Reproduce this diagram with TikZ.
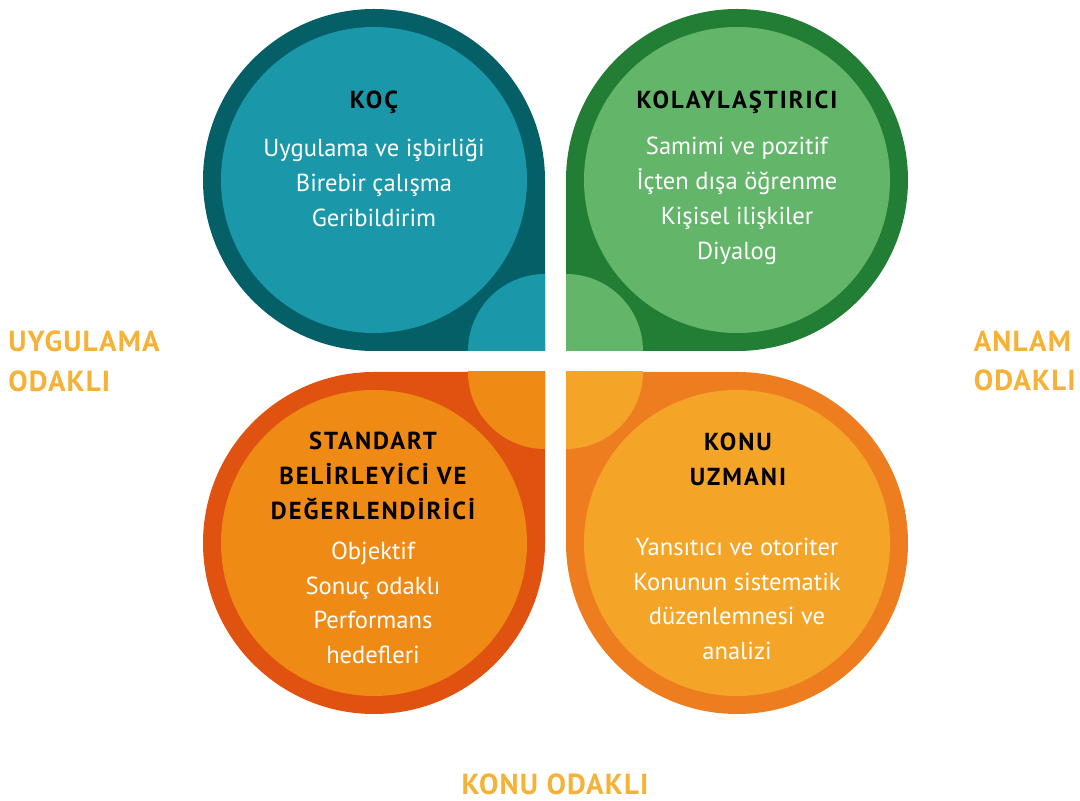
\documentclass[tikz,border=0pt]{standalone}
\usepackage{fontspec}
\setmainfont{PT Sans}
\usetikzlibrary{positioning}
\definecolor{coachdark}{HTML}{045F66}
\definecolor{coachlight}{HTML}{1A97A8}
\definecolor{facdark}{HTML}{237E35}
\definecolor{faclight}{HTML}{63B56A}
\definecolor{stddark}{HTML}{E0520F}
\definecolor{stdlight}{HTML}{EF8A14}
\definecolor{expdark}{HTML}{EE7D1F}
\definecolor{explight}{HTML}{F4A528}
\definecolor{axisgold}{HTML}{F5B236}
\tikzstyle{head}=[font=\bfseries\addfontfeatures{LetterSpace=8}\fontsize{14}{20}\selectfont,
  align=center,text=black,inner sep=0]
\tikzstyle{body}=[font=\fontsize{14}{19.8}\selectfont,align=center,text=white,inner sep=0]
\tikzstyle{axislabel}=[font=\bfseries\addfontfeatures{LetterSpace=4}\fontsize{16.5}{22.7}\selectfont,
  text=axisgold,inner sep=0]

\begin{document}
\begin{tikzpicture}[x=0.02cm,y=0.02cm]
    \useasboundingbox (0,0) rectangle (1080,801);

    % petals: centre, mirror, outer and inner colour
    \foreach \cx/\cy/\sx/\sy/\darkc/\lightc in {374/621/1/1/coachdark/coachlight,
        737/621/-1/1/facdark/faclight, 374/258/1/-1/stddark/stdlight,
        737/258/-1/-1/expdark/explight} {
      \begin{scope}[shift={(\cx,\cy)},xscale=\sx,yscale=\sy]
        \fill [fill=\darkc] (171,-171) -- (171,0)
          arc[start angle=0,end angle=270,radius=171] -- cycle;
        \fill [fill=\lightc] (0,0) circle[radius=153];
        % corner disc
        \begin{scope}
          \clip (94,-171) rectangle (171,-94);
          \fill [fill=\lightc] (171,-171) circle[radius=77];
        \end{scope}
      \end{scope}
    }

    % top left
    \node [head] (coachhead) at (374,699) {KOÇ};
    \node [body] (coachtext) at (374,618)
      {Uygulama ve işbirliği\\Birebir çalışma\\Geribildirim};

    % top right
    \node [head] (fachead) at (737,699) {KOLAYLAŞTIRICI};
    \node [body] (factext) at (737,600)
      {Samimi ve pozitif\\İçten dışa öğrenme\\Kişisel ilişkiler\\Diyalog};

    % bottom left
    \node [head] (stdhead) at (373,325)
      {STANDART\\BELİRLEYİCİ VE\\DEĞERLENDİRİCİ};
    \node [body] (stdtext) at (373,198)
      {Objektif\\Sonuç odaklı\\Performans\\hedefleri};

    % bottom right
    \node [head] (exphead) at (738,342) {KONU\\UZMANI};
    \node [body] (exptext) at (737,202)
      {Yansıtıcı ve otoriter\\Konunun sistematik\\düzenlemnesi ve\\analizi};

    % axis labels
    \node [axislabel,anchor=west,align=left] (practice) at (8,440) {UYGULAMA\\ODAKLI};
    \node [axislabel,anchor=east,align=left] (meaning) at (1076,440) {ANLAM\\ODAKLI};
    \node [axislabel] (content) at (555,17) {KONU ODAKLI};
  \end{tikzpicture}
\end{document}
